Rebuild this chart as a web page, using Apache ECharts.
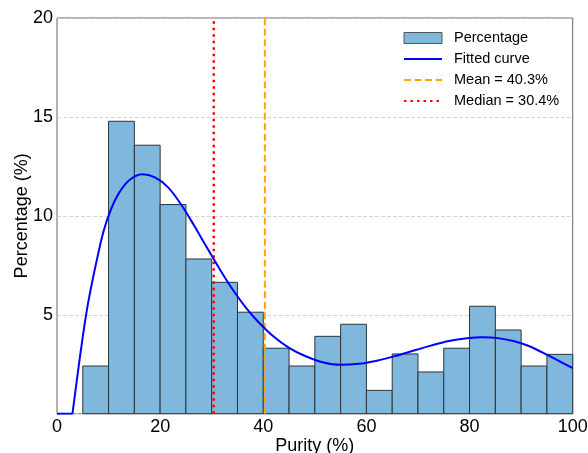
<!DOCTYPE html>
<html>
<head>
<meta charset="utf-8">
<script src="https://cdn.jsdelivr.net/npm/echarts@6/dist/echarts.min.js"></script>
<style>html,body{margin:0;padding:0;background:#fff}#c{width:588px;height:453px}</style>
</head>
<body>
<div id="c"></div>
<script>
// Histogram bins (left edges, width 5) and percentages
const binStarts = [5,10,15,20,25,30,35,40,45,50,55,60,65,70,75,80,85,90,95];
const binWidth = 5;
const percentages = [2.41,14.78,13.57,10.57,7.82,6.64,5.13,3.31,2.41,3.91,4.52,1.18,3.02,2.11,3.31,5.43,4.23,2.41,3.00];
// Fitted curve: flat part, then the smooth part
const curveFlatX = [0,3];
const curveFlatY = [0,0];
const curveX = [3,4,5,6,7.5,9,10.5,12,14,16.5,19,21.5,24,26.5,29,31.5,34,36.5,39,42,45,48,51.5,55,58.5,62,65.5,69,72.5,76,79.5,82.5,85.5,88.5,91.5,94,96.5,100];
const curveY = [0,2.0,3.9,5.55,7.5,9.2,10.35,11.15,11.8,12.1,11.94,11.45,10.6,9.55,8.43,7.33,6.3,5.4,4.65,3.9,3.33,2.93,2.6,2.47,2.52,2.68,2.91,3.18,3.44,3.67,3.81,3.86,3.82,3.67,3.42,3.11,2.78,2.3];
const meanValue = 40.3;
const medianValue = 30.4;
const xTicks = [0,20,40,60,80,100];
const yTicks = [0,5,10,15,20];

const FONT = "'Liberation Sans', Arial, sans-serif";
const histData = binStarts.map((s,i)=>[s, s+binWidth, percentages[i]]);
const curveData = curveX.map((x,i)=>[x, curveY[i]]);
const curveFlatData = curveFlatX.map((x,i)=>[x, curveFlatY[i]]);

const chart = echarts.init(document.getElementById('c'), null, {renderer:'canvas'});
chart.setOption({
  animation:false,
  textStyle:{fontFamily:FONT},
  grid:{left:57, right:15.3, top:18, bottom:39.3, show:true, borderColor:'#666', borderWidth:1,
        containLabel:false, outerBoundsMode:'none'},
  xAxis:{
    type:'value', min:xTicks[0], max:xTicks[xTicks.length-1], interval:20,
    name:'Purity (%)', nameLocation:'middle', nameGap:23, nameMoveOverlap:false,
    nameTextStyle:{fontSize:18, color:'#000', fontFamily:FONT},
    axisLine:{show:false}, axisTick:{show:false}, splitLine:{show:false},
    axisLabel:{fontSize:18, color:'#000', margin:4, fontFamily:FONT}
  },
  yAxis:{
    type:'value', min:yTicks[0], max:yTicks[yTicks.length-1], interval:5,
    name:'Percentage (%)', nameLocation:'middle', nameGap:26, nameMoveOverlap:false,
    nameTextStyle:{fontSize:18, color:'#000', fontFamily:FONT},
    axisLine:{show:false}, axisTick:{show:false},
    splitLine:{show:true, lineStyle:{color:'#cccccc', type:[4,2], width:0.8}},
    axisLabel:{fontSize:18, color:'#000', margin:4, fontFamily:FONT, showMinLabel:false}
  },
  legend:{
    orient:'vertical', left:403, top:29.5, padding:0, itemGap:4,
    itemWidth:38, itemHeight:11,
    textStyle:{fontSize:14.5, color:'#000', lineHeight:17, padding:[0,0,0,7], fontFamily:FONT},
    data:[
      {name:'Percentage', icon:'rect', itemStyle:{color:'#7fb8dc', borderColor:'#555', borderWidth:1}},
      {name:'Fitted curve', itemStyle:{opacity:0}},
      {name:'Mean = 40.3%', itemStyle:{opacity:0}},
      {name:'Median = 30.4%', itemStyle:{opacity:0}}
    ]
  },
  series:[
    {
      name:'Percentage', type:'custom', data:histData,
      encode:{x:[0,1], y:2},
      itemStyle:{color:'#7fb8dc'},
      renderItem:function(params, api){
        const p0 = api.coord([api.value(0), api.value(2)]);
        const p1 = api.coord([api.value(1), 0]);
        return {type:'rect', shape:{x:p0[0], y:p0[1], width:p1[0]-p0[0], height:p1[1]-p0[1]},
          style:{fill:'#7fb8dc', stroke:'#2e3438', lineWidth:1}};
      },
      z:2
    },
    {
      name:'Fitted curve', type:'line', data:curveData, smooth:0.33, symbol:'none',
      lineStyle:{color:'#0000ff', width:2}, itemStyle:{color:'#0000ff'}, z:5
    },
    {
      name:'Fitted curve', type:'line', data:curveFlatData, symbol:'none',
      lineStyle:{color:'#0000ff', width:2}, itemStyle:{color:'#0000ff'}, z:5
    },
    {
      name:'Mean = 40.3%', type:'line', data:[[meanValue,0],[meanValue,20]], symbol:'none',
      lineStyle:{color:'#ffa500', width:2, type:[7,3.5]}, itemStyle:{color:'#ffa500'}, z:4
    },
    {
      name:'Median = 30.4%', type:'line', data:[[medianValue,0],[medianValue,20]], symbol:'none',
      lineStyle:{color:'#ff0000', width:2.5, type:[2.5,4]}, itemStyle:{color:'#ff0000'}, z:4
    }
  ]
});
</script>
</body>
</html>
